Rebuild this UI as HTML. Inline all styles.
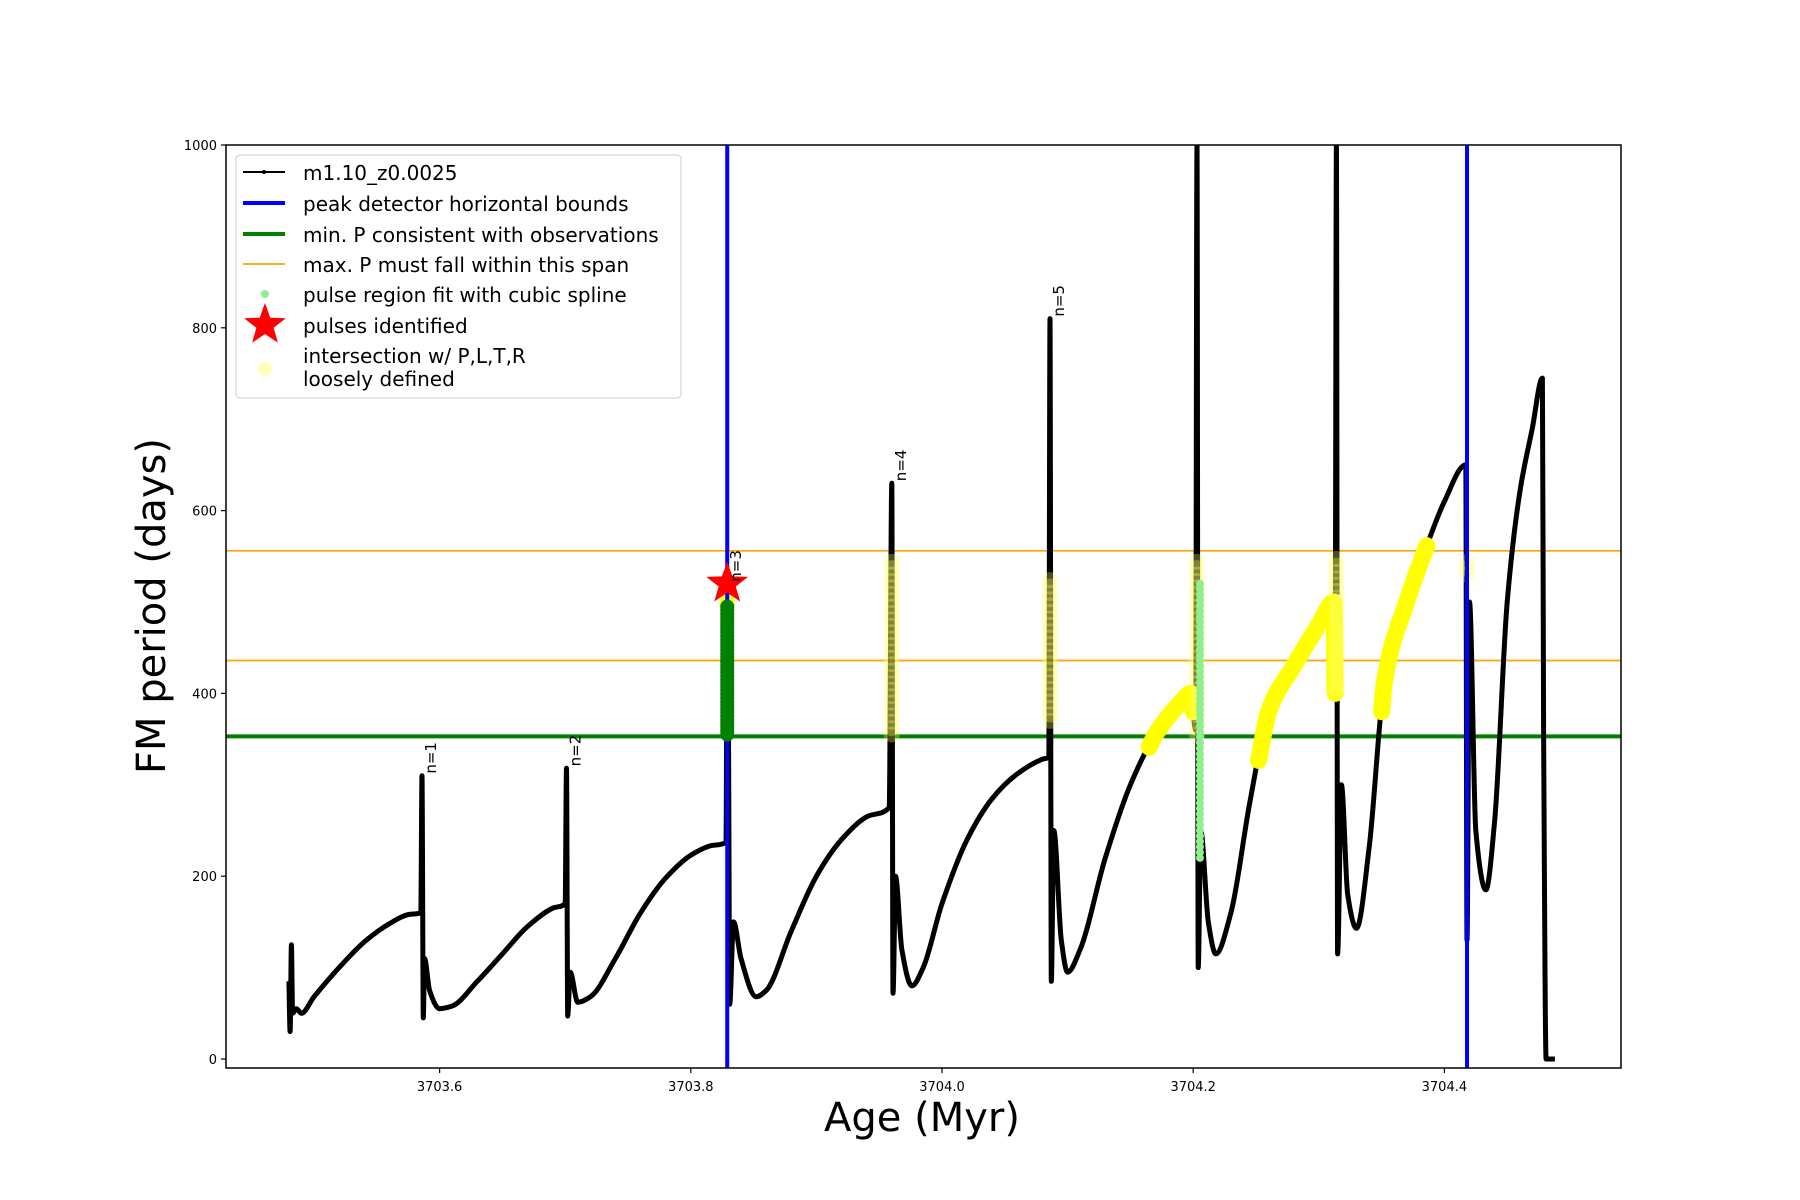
<!DOCTYPE html>
<html><head><meta charset="utf-8"><style>
html,body{margin:0;padding:0;background:#fff}
svg{display:block;font-family:"DejaVu Sans","Liberation Sans",sans-serif}
</style></head><body>
<svg id="chart" width="1800" height="1200" viewBox="0 0 1800 1200">
<rect width="1800" height="1200" fill="#fff"/>
<g id="plot"></g>
</svg>
<script>
const curveAges=[3703.480,3703.481,3703.482,3703.483,3703.486,3703.49,3703.50,3703.52,3703.54,3703.56,3703.575,3703.585,
3703.586,3703.587,3703.588,3703.592,3703.60,3703.61,3703.63,3703.65,3703.67,3703.69,3703.700,
3703.701,3703.702,3703.704,3703.71,3703.72,3703.74,3703.76,3703.78,3703.80,3703.815,3703.828,
3703.829,3703.830,3703.831,3703.834,3703.84,3703.852,3703.86,3703.88,3703.90,3703.92,3703.94,3703.958,
3703.960,3703.961,3703.963,3703.968,3703.976,3703.985,3704.00,3704.02,3704.04,3704.06,3704.08,3704.085,
3704.086,3704.087,3704.089,3704.095,3704.10,3704.11,3704.13,3704.15,3704.17,3704.19,3704.198,3704.202,
3704.203,3704.204,3704.206,3704.212,3704.218,3704.23,3704.245,3704.26,3704.28,3704.30,3704.312,3704.313,
3704.314,3704.315,3704.318,3704.323,3704.330,3704.34,3704.352,3704.37,3704.385,3704.40,3704.417,
3704.418,3704.420,3704.425,3704.433,3704.44,3704.45,3704.46,3704.47,3704.478,3704.479,3704.481,3704.488];
const curveP=[85,30,125,50,55,50,68,100,128,148,158,160,
310,45,110,75,55,58,85,115,145,165,170,
318,47,95,62,68,110,160,198,223,233,237,
495,355,60,150,110,68,75,140,200,240,265,275,
630,72,200,120,80,100,170,240,285,312,328,330,
810,85,250,130,95,120,220,300,355,390,400,360,
1000,100,250,150,115,160,280,380,430,475,500,400,
1000,115,300,180,143,230,410,500,558,610,650,
130,500,250,185,260,500,620,690,745,360,0,0];
const yellowRanges=[[3704.165,3704.2],[3704.252,3704.313],[3704.35,3704.386]];
const spikeClusterAges=[3703.960,3704.086,3704.203,3704.314,3704.418];
const spikeClusterLow=[355,370,355,400,530];
const spikeClusterHigh=[550,525,545,550,550];
const pulseAge=3703.829, pulseP=520;
const greenLow=355, greenHigh=495;
const lightGreenAge=3704.203, lightGreenLow=220, lightGreenHigh=520;
const blueAges=[3703.829,3704.418];
const minP=353;
const maxPSpan=[436,556];
const xTicks=[3703.6,3703.8,3704.0,3704.2,3704.4];
const xTickLabels=["3703.6","3703.8","3704.0","3704.2","3704.4"];
const yTicks=[0,200,400,600,800,1000];
const yTickLabels=["0","200","400","600","800","1000"];
const nLabels=["n=1","n=2","n=3","n=4","n=5"];
const nAges=[3703.586,3703.701,3703.829,3703.960,3704.086];
const nP=[310,318,520,630,810];

const L=226,R=1621,T=145,B=1068;
const X=a=>942+(a-3704.0)*1256;
const Y=p=>1059-p*0.914;
const NS="http://www.w3.org/2000/svg";
const plot=document.getElementById('plot');
function mk(tag,attrs,parent){const e=document.createElementNS(NS,tag);for(const k in attrs)e.setAttribute(k,attrs[k]);(parent||plot).appendChild(e);return e;}

// monotone cubic path
function monoPath(xs,ys){const n=xs.length;if(n<2)return '';
const dx=[],m=[];for(let i=0;i<n-1;i++){dx.push(xs[i+1]-xs[i]);m.push((ys[i+1]-ys[i])/(dx[i]||1e-6));}
const t=[m[0]];for(let i=1;i<n-1;i++){t.push(m[i-1]*m[i]<=0?0:(3*(dx[i-1]+dx[i]))/((2*dx[i]+dx[i-1])/m[i-1]+(dx[i]+2*dx[i-1])/m[i]));}t.push(m[n-2]);
let d='M'+xs[0].toFixed(1)+','+ys[0].toFixed(1);
for(let i=0;i<n-1;i++){const h=dx[i]/3;d+='C'+(xs[i]+h).toFixed(1)+','+(ys[i]+t[i]*h).toFixed(1)+' '+(xs[i+1]-h).toFixed(1)+','+(ys[i+1]-t[i+1]*h).toFixed(1)+' '+xs[i+1].toFixed(1)+','+ys[i+1].toFixed(1);}
return d;}

const defs=mk('defs',{});
const cp=mk('clipPath',{id:'clip'},defs);mk('rect',{x:L,y:T,width:R-L,height:B-T},cp);
const g=mk('g',{'clip-path':'url(#clip)'});



for(const v of maxPSpan){const l=mk('line',{x1:L,x2:R,y1:Y(v),y2:Y(v),stroke:'#ffa500','stroke-width':1.7},g);

}
const gl=mk('line',{x1:L,x2:R,y1:Y(minP),y2:Y(minP),stroke:'#008000','stroke-width':4},g);



const cur=mk('path',{d:monoPath(curveAges.map(X),curveP.map(Y)),fill:'none',stroke:'#000','stroke-width':5,'stroke-linejoin':'round'},g);



function interp(a){for(let i=1;i<curveAges.length;i++){if(curveAges[i]>=a){const t=(a-curveAges[i-1])/(curveAges[i]-curveAges[i-1]);return curveP[i-1]+t*(curveP[i]-curveP[i-1]);}}return 0;}
for(const [a0,a1] of yellowRanges){const xs=[X(a0)],ys=[Y(interp(a0))];
curveAges.forEach((a,i)=>{if(a>a0&&a<a1){xs.push(X(a));ys.push(Y(curveP[i]));}});xs.push(X(a1));ys.push(Y(interp(a1)));
const y=mk('path',{d:monoPath(xs,ys),fill:'none',stroke:'#ffff00','stroke-width':17,'stroke-linecap':'round','stroke-linejoin':'round'},g);

}
spikeClusterAges.forEach((a,i)=>{for(let p=spikeClusterLow[i];p<=spikeClusterHigh[i];p+=7){
const c=mk('circle',{cx:X(a),cy:Y(p),r:8,fill:'#ffff66','fill-opacity':0.3},g);

}});
for(let p=495;p<=520;p+=6){const c=mk('circle',{cx:X(pulseAge),cy:Y(p),r:8,fill:'#ffff00','fill-opacity':0.6},g);

}

for(const a of blueAges){const l=mk('line',{x1:X(a),x2:X(a),y1:T,y2:B,stroke:'#0000ff','stroke-width':4},g);

}

for(let p=greenLow;p<=greenHigh;p+=4){const c=mk('circle',{cx:X(pulseAge),cy:Y(p),r:7,fill:'#008000'},g);

}
for(let p=lightGreenLow;p<=lightGreenHigh;p+=6){const c=mk('circle',{cx:X(lightGreenAge)+3,cy:Y(p),r:4,fill:'#90ee90'},g);

}

function star(cx,cy,ro,ri){let s='';for(let i=0;i<10;i++){const r=i%2?ri:ro;const an=-Math.PI/2+i*Math.PI/5;s+=(cx+r*Math.cos(an)).toFixed(1)+','+(cy+r*Math.sin(an)).toFixed(1)+' ';}return s;}
const st=mk('polygon',{points:star(X(pulseAge),Y(pulseP),22,9),fill:'#ff0000'},g);



nLabels.forEach((t,i)=>{const x=X(nAges[i])+14,y=Y(nP[i])-2;
const tx=mk('text',{x:x,y:y,'font-size':15,transform:`rotate(-90 ${x} ${y})`,fill:'#000'},g);tx.textContent=t;

});

const fr=mk('rect',{x:L,y:T,width:R-L,height:B-T,fill:'none',stroke:'#000','stroke-width':1.5});


xTicks.forEach((v,i)=>{const x=X(v);mk('line',{x1:x,x2:x,y1:B,y2:B+5,stroke:'#000','stroke-width':1.2});
const t=mk('text',{x:x,y:B+23,'font-size':13,'text-anchor':'middle'});t.textContent=xTickLabels[i];

});
yTicks.forEach((v,i)=>{const y=Y(v);mk('line',{x1:L-5,x2:L,y1:y,y2:y,stroke:'#000','stroke-width':1.2});
const t=mk('text',{x:L-9,y:y+5,'font-size':13,'text-anchor':'end'});t.textContent=yTickLabels[i];

});
const xt=mk('text',{x:922,y:1131,'font-size':40,'text-anchor':'middle'});xt.textContent='Age (Myr)';


const yt=mk('text',{x:165,y:606,'font-size':40,'text-anchor':'middle',transform:'rotate(-90 165 606)'});yt.textContent='FM period (days)';



const lg=mk('g',{});


mk('rect',{x:236,y:155,width:445,height:243,rx:4,fill:'#fff','fill-opacity':0.8,stroke:'#ccc','stroke-width':1},lg);
const entries=[['m1.10_z0.0025',172],['peak detector horizontal bounds',203],['min. P consistent with observations',234],['max. P must fall within this span',264],['pulse region fit with cubic spline',294],['pulses identified',325]];
entries.forEach(([t,y])=>{const tx=mk('text',{x:303,y:y+8,'font-size':20},lg);tx.textContent=t;

});
mk('line',{x1:243,x2:285,y1:172,y2:172,stroke:'#000','stroke-width':2},lg);mk('circle',{cx:264,cy:172,r:2,fill:'#000'},lg);
mk('line',{x1:243,x2:285,y1:203,y2:203,stroke:'#0000ff','stroke-width':4},lg);
mk('line',{x1:243,x2:285,y1:234,y2:234,stroke:'#008000','stroke-width':4},lg);
mk('line',{x1:243,x2:285,y1:264,y2:264,stroke:'#ffa500','stroke-width':1.7},lg);
mk('circle',{cx:265,cy:294,r:4,fill:'#90ee90'},lg);
mk('polygon',{points:star(265,325,22,9),fill:'#ff0000'},lg);
mk('circle',{cx:265,cy:369,r:7,fill:'#ffff99','fill-opacity':0.7},lg);
const t1=mk('text',{x:303,y:363,'font-size':20},lg);t1.textContent='intersection w/ P,L,T,R';


const t2=mk('text',{x:303,y:386,'font-size':20},lg);t2.textContent='loosely defined';


</script>
</body></html>
